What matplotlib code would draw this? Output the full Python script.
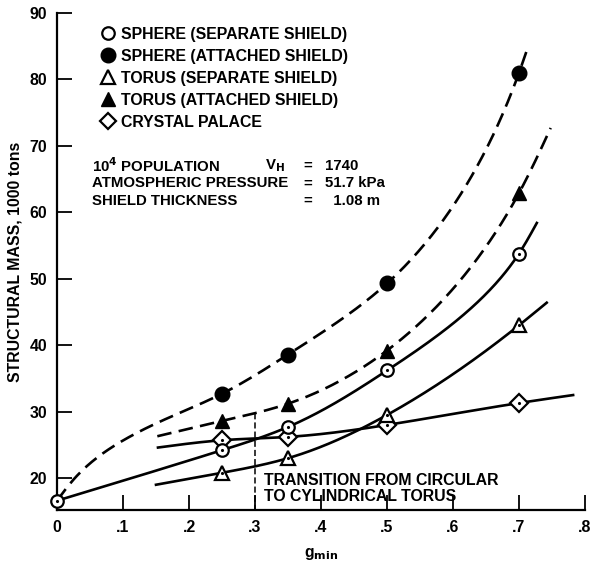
import numpy as np
import matplotlib.pyplot as plt
from matplotlib.lines import Line2D

plt.rcParams['font.family'] = ['Liberation Sans', 'DejaVu Sans']
plt.rcParams['font.weight'] = 'bold'

# ---- data ----
g_pts = [0.25, 0.35, 0.5, 0.7]
sphere_sep = [24.2, 27.7, 36.2, 53.8]
sphere_att = [32.7, 38.6, 49.3, 81.0]
torus_sep = [20.8, 23.0, 29.5, 43.0]
torus_att = [28.6, 31.2, 39.2, 62.9]
crystal = [25.7, 26.2, 28.0, 31.3]
origin_g = 0.0
origin_mass = 16.6

# curve traces
sphere_att_cx = [0.0, 0.027, 0.065, 0.106, 0.156, 0.25, 0.35, 0.5, 0.7, 0.714]
sphere_att_cy = [16.6, 20.0, 23.4, 26.0, 28.5, 32.7, 38.6, 49.3, 81.0, 85.0]
sphere_sep_cx = [0.0, 0.25, 0.35, 0.5, 0.7, 0.727]
sphere_sep_cy = [16.6, 24.2, 27.7, 36.2, 53.8, 58.4]
torus_att_cx = [0.152, 0.25, 0.35, 0.5, 0.7, 0.748]
torus_att_cy = [26.3, 28.6, 31.2, 39.2, 62.9, 72.7]
torus_sep_cx = [0.15, 0.25, 0.35, 0.5, 0.7, 0.742]
torus_sep_cy = [19.0, 20.8, 23.0, 29.5, 43.0, 46.4]
crystal_cx = [0.153, 0.25, 0.35, 0.5, 0.7, 0.782]
crystal_cy = [24.6, 25.7, 26.2, 28.0, 31.3, 32.5]

transition_g = 0.3
transition_top = 29.8

legend_labels = ['SPHERE (SEPARATE SHIELD)', 'SPHERE (ATTACHED SHIELD)',
                 'TORUS (SEPARATE SHIELD)', 'TORUS (ATTACHED SHIELD)',
                 'CRYSTAL PALACE']
xticks = [0, 0.1, 0.2, 0.3, 0.4, 0.5, 0.6, 0.7, 0.8]
xtick_labels = ['0', '.1', '.2', '.3', '.4', '.5', '.6', '.7', '.8']
yticks = [20, 30, 40, 50, 60, 70, 80, 90]

FS = 11.4
FS_P = 10.8


def spline1d(t, v, tt):
    # natural cubic spline v(t)
    k = len(t)
    h = np.diff(t)
    A = np.zeros((k, k))
    r = np.zeros(k)
    A[0, 0] = A[-1, -1] = 1
    for i in range(1, k - 1):
        A[i, i - 1] = h[i - 1]
        A[i, i] = 2 * (h[i - 1] + h[i])
        A[i, i + 1] = h[i]
        r[i] = 6 * ((v[i + 1] - v[i]) / h[i] - (v[i] - v[i - 1]) / h[i - 1])
    M = np.linalg.solve(A, r)
    idx = np.clip(np.searchsorted(t, tt) - 1, 0, k - 2)
    t0, t1 = t[idx], t[idx + 1]
    hh = t1 - t0
    a = (t1 - tt) / hh
    b = (tt - t0) / hh
    return (a * v[idx] + b * v[idx + 1]
            + ((a ** 3 - a) * M[idx] + (b ** 3 - b) * M[idx + 1]) * hh ** 2 / 6)


def smooth(xs, ys, n=400):
    # parametric spline through the read points (chord length in screen-ish units)
    x = np.asarray(xs, float)
    y = np.asarray(ys, float)
    sx, sy = x * 660, y * 6.62
    t = np.concatenate([[0], np.cumsum(np.hypot(np.diff(sx), np.diff(sy)))])
    tt = np.linspace(0, t[-1], n)
    return spline1d(t, x, tt), spline1d(t, y, tt)


fig = plt.figure(figsize=(5.98, 5.63), dpi=100)
ax = fig.add_axes([57 / 598, 1 - 510 / 563, 528 / 598, 497 / 563])

lw = 1.9
dash = (0, (5.5, 2.8))

x, y = smooth(sphere_att_cx, sphere_att_cy)
ax.plot(x, y, color='black', lw=lw, linestyle=dash)
x, y = smooth(torus_att_cx, torus_att_cy)
ax.plot(x, y, color='black', lw=lw, linestyle=dash)
x, y = smooth(sphere_sep_cx, sphere_sep_cy)
ax.plot(x, y, color='black', lw=lw)
x, y = smooth(torus_sep_cx, torus_sep_cy)
ax.plot(x, y, color='black', lw=lw)
x, y = smooth(crystal_cx, crystal_cy)
ax.plot(x, y, color='black', lw=lw)

# transition line
ax.plot([transition_g, transition_g], [15, transition_top], color='black', lw=1.1,
        linestyle=(0, (4, 2)))
ax.text(transition_g + 0.014, 18.5, 'TRANSITION FROM CIRCULAR\nTO CYLINDRICAL TORUS',
        fontsize=FS, fontweight='bold', va='center', ha='left', linespacing=1.08)

# markers
ax.plot(g_pts, sphere_att, 'o', color='black', ms=10.5, zorder=5)
ax.plot(g_pts, torus_att, '^', color='black', ms=10.5, zorder=5)
ax.plot(g_pts, crystal, 'D', mfc='white', mec='black', mew=1.6, ms=9, zorder=5)
ax.plot(g_pts + [origin_g], sphere_sep + [origin_mass], 'o', mfc='white', mec='black',
        mew=1.6, ms=9, zorder=6, clip_on=False)
ax.plot(g_pts, torus_sep, '^', mfc='white', mec='black', mew=1.6, ms=9.5, zorder=6)
# little centre dots of the open symbols
for ys in [sphere_sep, torus_sep, crystal]:
    ax.plot(g_pts, ys, '.', color='black', ms=2.5, zorder=7)
ax.plot([origin_g], [origin_mass], '.', color='black', ms=2.5, zorder=7, clip_on=False)

handles = [Line2D([], [], marker='o', ls='', mfc='white', mec='black', mew=1.6, ms=9),
           Line2D([], [], marker='o', ls='', color='black', ms=10.5),
           Line2D([], [], marker='^', ls='', mfc='white', mec='black', mew=1.6, ms=9.5),
           Line2D([], [], marker='^', ls='', color='black', ms=10.5),
           Line2D([], [], marker='D', ls='', mfc='white', mec='black', mew=1.6, ms=8.5)]
leg = ax.legend(handles, legend_labels, loc='upper left', bbox_to_anchor=(0.07, 0.985),
                frameon=False, handlelength=1.0, handletextpad=0.3, labelspacing=0.44,
                borderaxespad=0, prop={'size': FS, 'weight': 'bold'})

# parameters block
params_left = ['10$^{\\mathbf{4}}$ POPULATION', 'ATMOSPHERIC PRESSURE', 'SHIELD THICKNESS']
params_val = ['1740', '51.7 kPa', '  1.08 m']
for i in range(3):
    yy = 0.692 - i * 0.035
    ax.text(35 / 528, yy, params_left[i], transform=ax.transAxes, fontsize=FS_P,
            fontweight='bold', va='center')
    ax.text(246 / 528, yy, '=', transform=ax.transAxes, fontsize=FS_P,
            fontweight='bold', va='center')
    ax.text(268 / 528, yy, params_val[i], transform=ax.transAxes, fontsize=FS_P,
            fontweight='bold', va='center')
ax.text(208 / 528, 0.692, 'V$_{\\mathbf{H}}$', transform=ax.transAxes, fontsize=FS_P,
        fontweight='bold', va='center')

ax.set_xlim(0, 0.8)
ax.set_ylim(15.2, 90)
ax.set_xticks(xticks)
ax.set_xticklabels(xtick_labels)
ax.set_yticks(yticks)
ax.tick_params(direction='in', length=11, width=1.3, labelsize=FS, pad=7)
for lab in ax.get_xticklabels() + ax.get_yticklabels():
    lab.set_fontweight('bold')
ax.spines['top'].set_visible(False)
ax.spines['right'].set_visible(False)
ax.spines['left'].set_linewidth(1.6)
ax.spines['bottom'].set_linewidth(1.6)

ax.set_ylabel('STRUCTURAL MASS, 1000 tons', fontsize=FS, fontweight='bold', labelpad=5)
ax.set_xlabel('g$_{\\mathbf{min}}$', fontsize=FS, fontweight='bold', labelpad=8)

fig.savefig('out.png', dpi=100)
